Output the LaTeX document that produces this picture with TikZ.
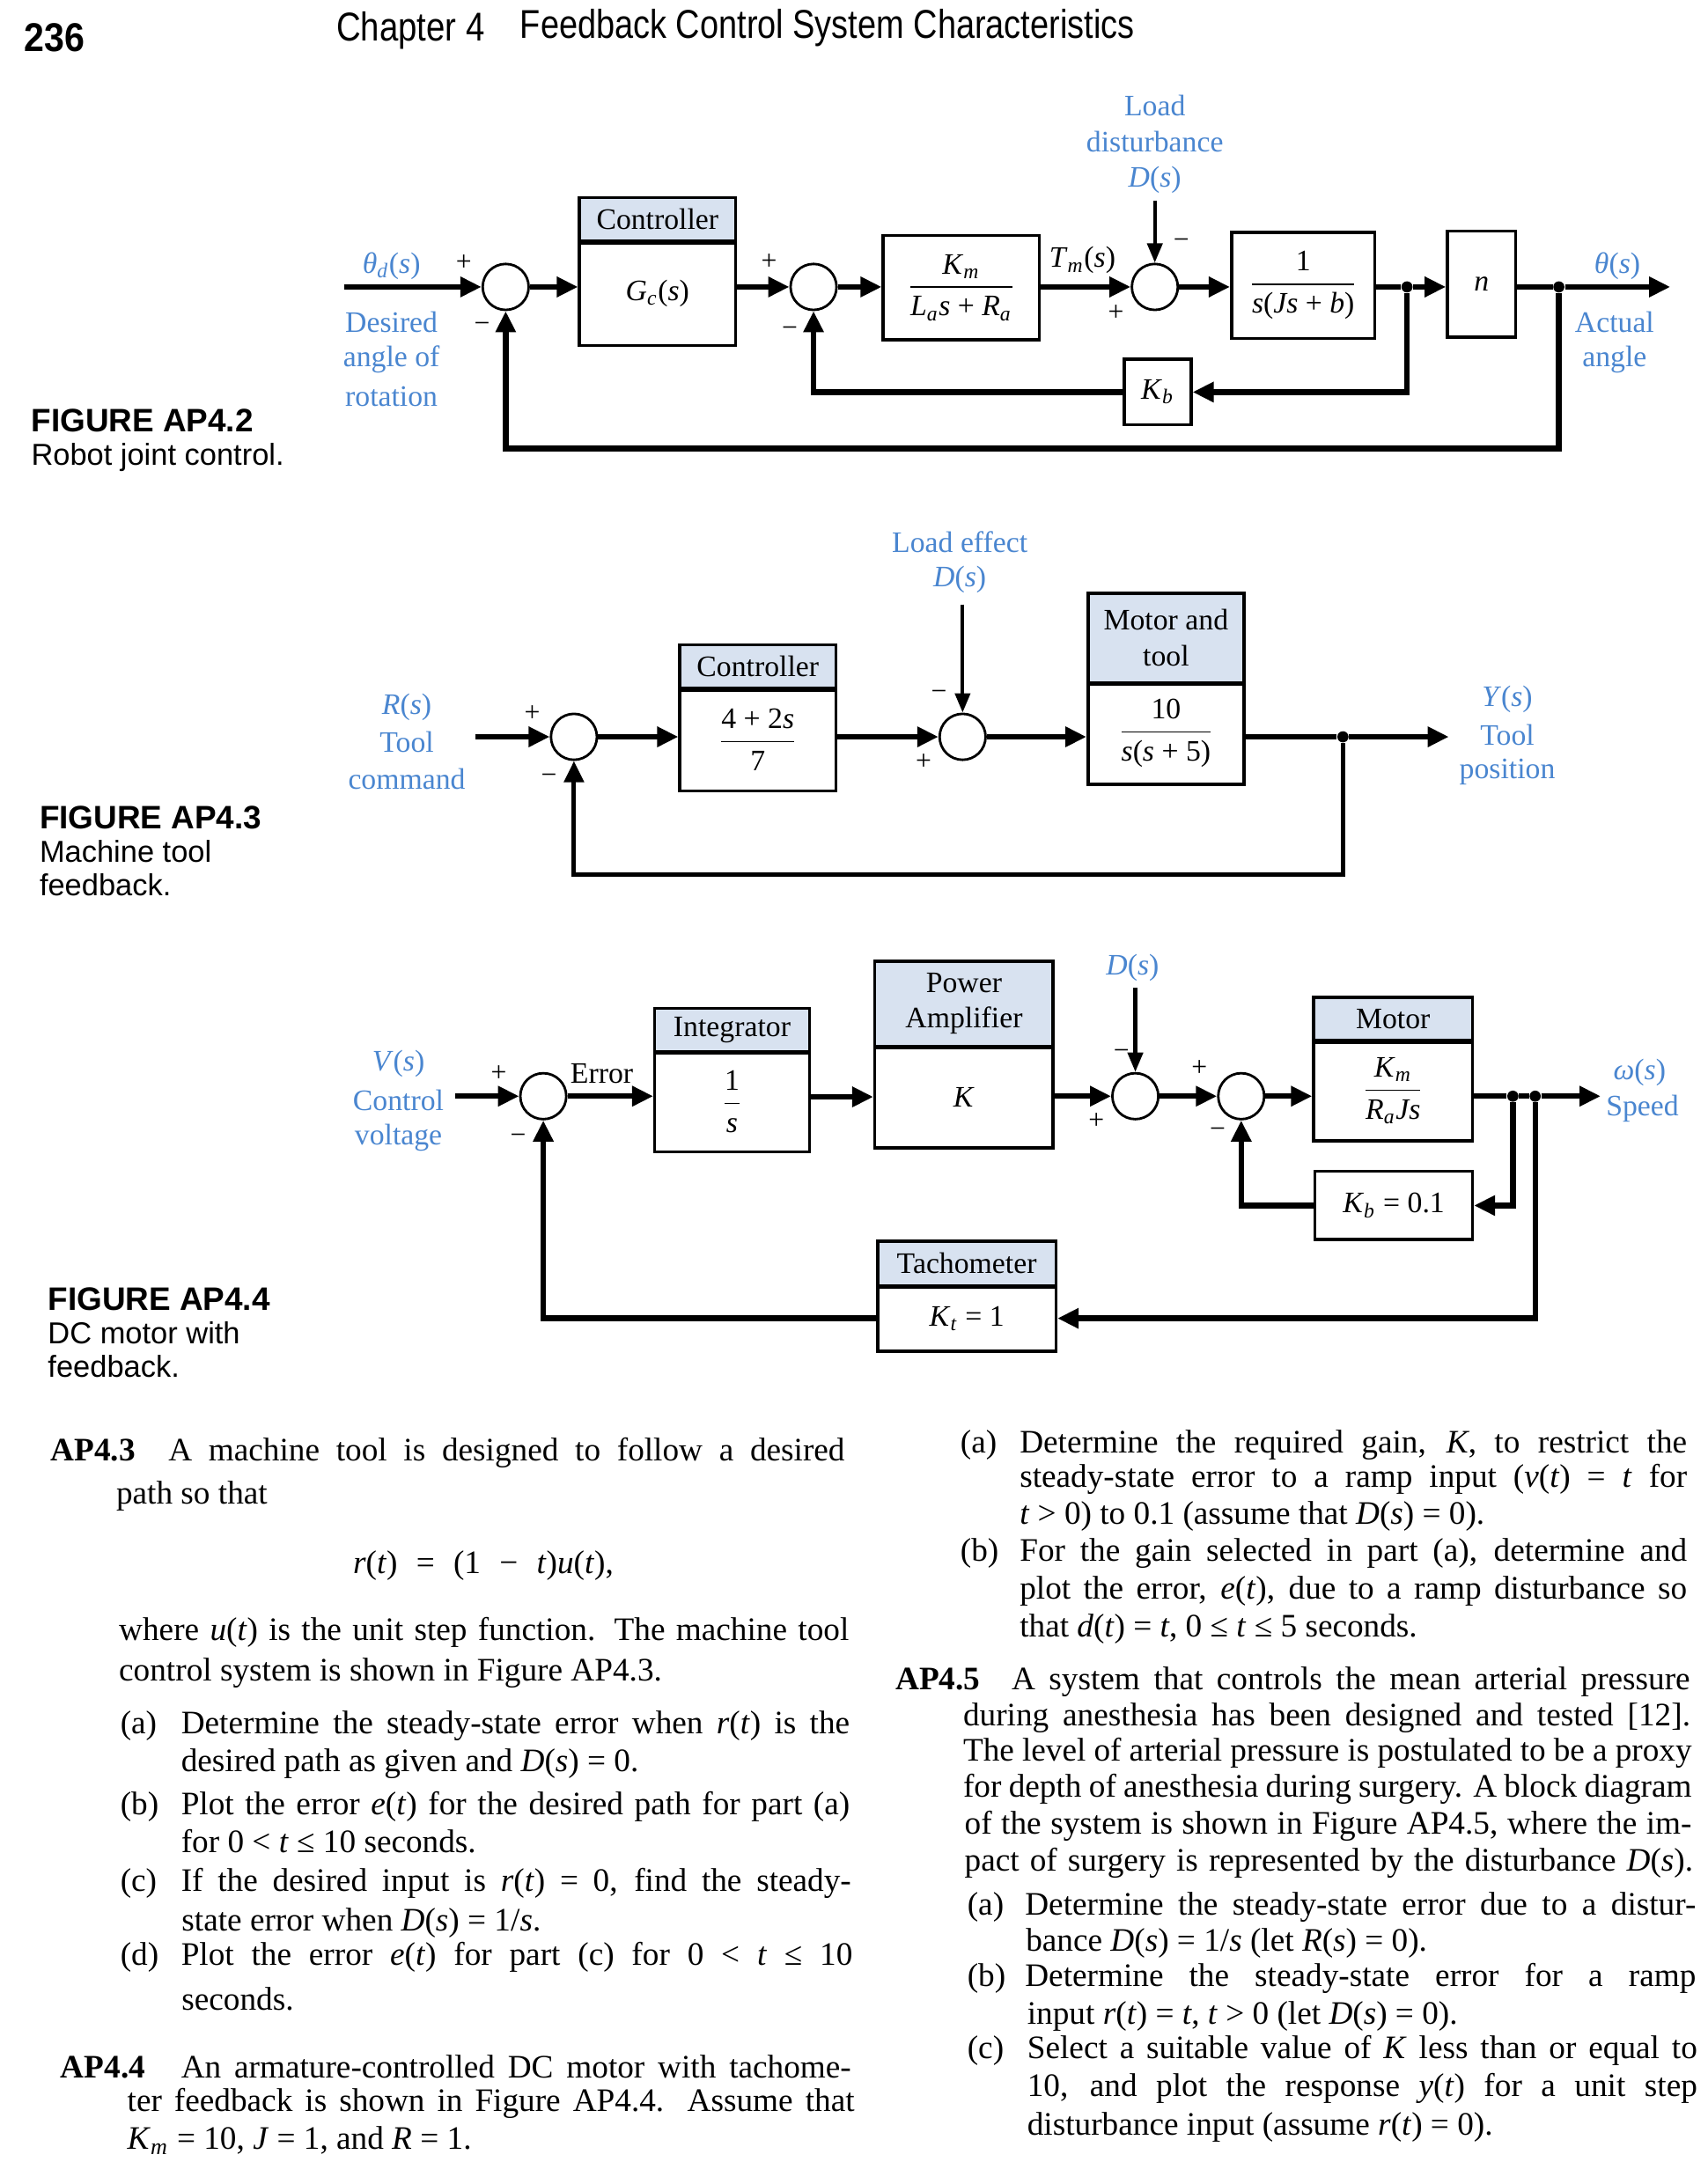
\documentclass[tikz,border=0pt]{standalone}
\usepackage{fontspec}
\usepackage{amsmath}
\usepackage{graphicx}
\setmainfont{Liberation Serif}
\newfontfamily\hsans{Liberation Sans}
\usetikzlibrary{arrows.meta}
\definecolor{lblue}{RGB}{74,134,208}
\definecolor{hdrfill}{RGB}{216,226,240}
\newdimen\upx \upx=0.015824cm
\newcommand\ux{0.015824cm}
\newcommand\mv[1]{\textit{#1}}
\newcommand\sbs[1]{\ensuremath{_{\textit{#1}}}}
\newcommand\frc[2]{\ensuremath{\displaystyle\frac{\text{#1}}{\text{#2}}}}
\newcommand\dfont{\fontsize{9.6}{11.6}\selectfont}
\newcommand\bfnt{\fontsize{10.6}{13}\selectfont}
\newcommand\sgnfont{\fontsize{9}{10}\selectfont}
\newcommand\HBlock[8]{%
  \node[hdr, minimum width={(#3-#2)*\ux}, minimum height={(#5-#4)*\ux}] (#1-h) at ({(#2+#3)/2},{(#4+#5)/2}) {#7};
  \node[blk, minimum width={(#3-#2)*\ux}, minimum height={(#6-#5)*\ux}] (#1) at ({(#2+#3)/2},{(#5+#6)/2}) {#8};
  \draw[line width=1.2pt] (#1-h.south west) -- (#1-h.south east);}
\newcommand\PBlock[6]{%
  \node[blk, minimum width={(#3-#2)*\ux}, minimum height={(#5-#4)*\ux}] (#1) at ({(#2+#3)/2},{(#4+#5)/2}) {#6};}
\newcommand\JL[5]{\node[bt] (#1) at (#2,#3) {\hbox to #4\upx{#5}};}
\newcommand\NL[4]{\node[bt] (#1) at (#2,#3) {#4};}
\begin{document}
\begin{tikzpicture}[x=0.015824cm, y=-0.015824cm,
  blk/.style={draw, line width=1pt, inner sep=1pt, align=center, font=\dfont},
  hdr/.style={blk, fill=hdrfill},
  sumj/.style={draw, circle, line width=0.8pt, minimum size={33*\ux}, inner sep=0pt},
  sig/.style={line width=1.8pt, -{Triangle[length=0.24cm, width=0.22cm]}},
  dsig/.style={line width=1.2pt, -{Triangle[length=0.22cm, width=0.17cm]}},
  wire/.style={line width=1.8pt},
  pdot/.style={circle, fill, inner sep=0pt, minimum size={8*\ux}},
  lbl/.style={text=lblue, font=\dfont, inner sep=0pt},
  dl/.style={font=\dfont, inner sep=0pt},
  sgn/.style={font=\sgnfont, inner sep=0pt},
  bt/.style={font=\bfnt, inner sep=0pt, anchor=base west},
  capb/.style={font={\hsans\bfseries\fontsize{10.5}{12}\selectfont}, inner sep=0pt, anchor=base west},
  capr/.style={font={\hsans\fontsize{9.8}{12}\selectfont}, inner sep=0pt, anchor=base west}]
\fill[white] (0,0) rectangle (1226,1568);
\useasboundingbox (0,0) rectangle (1226,1568);

% ---------- page header ----------
\node[anchor=west, inner sep=0pt, font={\hsans\bfseries\fontsize{13}{15}\selectfont}] (pg) at (17,27) {\scalebox{0.9}[1]{236}};
\node[anchor=west, inner sep=0pt, font={\hsans\fontsize{13}{15}\selectfont}] (chap) at (241,22) {\scalebox{0.84}[1]{Chapter 4}};
\node[anchor=west, inner sep=0pt, font={\hsans\fontsize{13}{15}\selectfont}] (ctitle) at (373,20) {\scalebox{0.83}[1]{Feedback Control System Characteristics}};

% ---------- FIGURE AP4.2 ----------
\coordinate (in2) at (247,206);
\node[sumj] (s21) at (363,206) {};
\HBlock{ctrl2}{416}{528}{142}{173}{248}{Controller}{\mv{G}\sbs{c}(\mv{s})}
\node[sumj] (s22) at (584,206) {};
\PBlock{kma}{634}{746}{169}{244}{\frc{\mv{K}\sbs{m}}{\mv{L}\sbs{a}\mv{s} + \mv{R}\sbs{a}}}
\node[sumj] (s23) at (829,206) {};
\PBlock{pl2}{884}{987}{167}{243}{\frc{1}{\mv{s}(\mv{Js} + \mv{b})}}
\node[pdot] (p21) at (1010,206) {};
\PBlock{nb}{1039}{1088}{166}{242}{\mv{n}}
\node[pdot] (p22) at (1119,206) {};
\coordinate (out2) at (1199,206);
\PBlock{kb2}{807}{855}{258}{305}{\mv{K}\sbs{b}}
\coordinate (fb2) at (740,322);
\coordinate (d2) at (829,144);

\draw[sig] (in2) -- (s21);
\draw[sig] (s21) -- (s21 -| ctrl2.west);
\draw[sig] (ctrl2.east |- s22) -- (s22);
\draw[sig] (s22) -- (s22 -| kma.west);
\draw[sig] (kma.east |- s23) -- (s23);
\draw[sig] (s23) -- (s23 -| pl2.west);
\draw[wire] (pl2.east |- p21) -- (p21);
\draw[sig] (p21) -- (p21 -| nb.west);
\draw[wire] (nb.east |- p22) -- (p22);
\draw[sig] (p22) -- (out2);
\draw[sig] (p21) |- (kb2.east);
\draw[sig] (kb2.west) -| (s22.south);
\draw[sig] (p22) |- (fb2) -| (s21.south);
\draw[dsig] (d2) -- (s23);

\node[lbl] (thd) at (281,191) {\mv{θ}\sbs{d}(\mv{s})};
\node[lbl] (des1) at (281,231) {Desired};
\node[lbl] (des2) at (281,258) {angle of};
\node[lbl] (des3) at (281,285) {rotation};
\node[sgn] (g21) at (333,189) {+};
\node[sgn] (g22) at (346,235) {−};
\node[sgn] (g23) at (552,188) {+};
\node[sgn] (g24) at (567,238) {−};
\node[dl] (tm) at (777,187) {\mv{T}\sbs{m}(\mv{s})};
\node[sgn] (g25) at (848,175) {−};
\node[sgn] (g26) at (801,225) {+};
\node[lbl] (ld1) at (829,76) {Load};
\node[lbl] (ld2) at (829,102) {disturbance};
\node[lbl] (ld3) at (829,129) {\mv{D}(\mv{s})};
\node[lbl] (th) at (1161,191) {\mv{θ}(\mv{s})};
\node[lbl] (act1) at (1159,231) {Actual};
\node[lbl] (act2) at (1159,258) {angle};
\node[capb] (f2) at (22,310) {FIGURE AP4.2};
\node[capr] (f2t) at (22,334) {Robot joint control.};

% ---------- FIGURE AP4.3 ----------
\coordinate (in3) at (341,529);
\node[sumj] (s31) at (412,529) {};
\HBlock{ctrl3}{488}{600}{463}{494}{568}{Controller}{\frc{4 + 2\mv{s}}{7}}
\node[sumj] (s32) at (691,529) {};
\HBlock{mt}{781}{893}{426}{490}{563}{Motor and\\tool}{\frc{10}{\mv{s}(\mv{s} + 5)}}
\node[pdot] (p3) at (964,529) {};
\coordinate (out3) at (1040,529);
\coordinate (fb3) at (700,628);
\coordinate (d3) at (691,434);

\draw[sig] (in3) -- (s31);
\draw[sig] (s31) -- (s31 -| ctrl3.west);
\draw[sig] (ctrl3.east |- s32) -- (s32);
\draw[sig] (s32) -- (s32 -| mt.west);
\draw[wire] (mt.east |- p3) -- (p3);
\draw[sig] (p3) -- (out3);
\draw[sig, line width=1.4pt] (p3) |- (fb3) -| (s31.south);
\draw[dsig] (d3) -- (s32);

\node[lbl] (rs) at (292,508) {\mv{R}(\mv{s})};
\node[lbl] (tc1) at (292,533) {Tool};
\node[lbl] (tc2) at (292,559) {command};
\node[sgn] (g31) at (382,512) {+};
\node[sgn] (g32) at (394,559) {−};
\node[sgn] (g33) at (674,499) {−};
\node[sgn] (g34) at (663,547) {+};
\node[lbl] (le1) at (689,389) {Load effect};
\node[lbl] (le2) at (689,416) {\mv{D}(\mv{s})};
\node[lbl] (ys) at (1082,502) {\mv{Y}(\mv{s})};
\node[lbl] (tp1) at (1082,528) {Tool};
\node[lbl] (tp2) at (1082,554) {position};
\node[capb] (f3) at (28,595) {FIGURE AP4.3};
\node[capr] (f3a) at (28,619) {Machine tool};
\node[capr] (f3b) at (28,643) {feedback.};

% ---------- FIGURE AP4.4 ----------
\coordinate (in4) at (327,787);
\node[sumj] (s41) at (390,787) {};
\HBlock{integ}{470}{581}{724}{755}{827}{Integrator}{\frc{1}{\mv{s}}}
\HBlock{pa}{628}{756}{690}{751}{824}{Power\\Amplifier}{\mv{K}}
\node[sumj] (s42) at (815,787) {};
\node[sumj] (s43) at (891,787) {};
\HBlock{motor}{943}{1057}{716}{747}{819}{Motor}{\frc{\mv{K}\sbs{m}}{\mv{R}\sbs{a}\mv{Js}}}
\node[pdot] (p41) at (1086,787) {};
\node[pdot] (p42) at (1102,787) {};
\coordinate (out4) at (1149,787);
\PBlock{kb4}{944}{1057}{841}{890}{\mv{K}\sbs{b} = 0.1}
\HBlock{tach}{630}{758}{891}{923}{970}{Tachometer}{\mv{K}\sbs{t} = 1}
\coordinate (d4) at (815,709);

\draw[sig] (in4) -- (s41);
\draw[sig] (s41) -- (s41 -| integ.west);
\draw[sig] (integ.east |- pa) -- (pa.west);
\draw[sig] (pa.east |- s42) -- (s42);
\draw[sig] (s42) -- (s43);
\draw[sig] (s43) -- (s43 -| motor.west);
\draw[wire] (motor.east |- p41) -- (p41) -- (p42);
\draw[sig] (p42) -- (out4);
\draw[sig] (p41) |- (kb4.east);
\draw[sig] (kb4.west) -| (s43.south);
\draw[sig] (p42) |- (tach.east);
\draw[sig] (tach.west) -| (s41.south);
\draw[dsig] (d4) -- (s42);

\node[lbl] (vs) at (286,764) {\mv{V}(\mv{s})};
\node[lbl] (cv1) at (286,790) {Control};
\node[lbl] (cv2) at (286,817) {voltage};
\node[sgn] (g41) at (358,771) {+};
\node[sgn] (g42) at (372,818) {−};
\node[dl] (err) at (432,771) {Error};
\node[lbl] (ds4) at (813,695) {\mv{D}(\mv{s})};
\node[sgn] (g43) at (805,757) {−};
\node[sgn] (g44) at (787,805) {+};
\node[sgn] (g45) at (861,767) {+};
\node[sgn] (g46) at (874,813) {−};
\node[lbl] (ws) at (1177,770) {\mv{ω}(\mv{s})};
\node[lbl] (spd) at (1179,796) {Speed};
\node[capb] (f4) at (34,941) {FIGURE AP4.4};
\node[capr] (f4a) at (34,965) {DC motor with};
\node[capr] (f4b) at (34,989) {feedback.};

% ---------- left column text ----------
\NL{ap43}{36}{1049}{\textbf{AP4.3}}
\JL{l1}{120.5}{1049}{485.5}{A machine tool is designed to follow a desired}
\NL{l2}{83}{1080}{path so that}
\JL{l3}{253}{1130}{187}{\mv{r}(\mv{t}) = (1 − \mv{t})\mv{u}(\mv{t}),}
\JL{l4}{85}{1178}{524}{where \mv{u}(\mv{t}) is the unit step function. The machine tool}
\NL{l5}{85}{1207}{control system is shown in Figure AP4.3.}
\NL{la}{86}{1245}{(a)}
\JL{l6}{129.6}{1245}{480}{Determine the steady-state error when \mv{r}(\mv{t}) is the}
\NL{l7}{129.6}{1272}{desired path as given and \mv{D}(\mv{s}) = 0.}
\NL{lb}{86}{1303}{(b)}
\JL{l8}{129.6}{1303}{480}{Plot the error \mv{e}(\mv{t}) for the desired path for part (a)}
\NL{l9}{129.6}{1330}{for 0 < \mv{t} ≤ 10 seconds.}
\NL{lc}{86}{1358}{(c)}
\JL{l10}{129.6}{1358}{481}{If the desired input is \mv{r}(\mv{t}) = 0, find the steady-}
\NL{l11}{130}{1386}{state error when \mv{D}(\mv{s}) = 1/\mv{s}.}
\NL{ld}{86}{1411}{(d)}
\JL{l12}{129.6}{1411}{482}{Plot the error \mv{e}(\mv{t}) for part (c) for 0 < \mv{t} ≤ 10}
\NL{l13}{130}{1443}{seconds.}
\NL{ap44}{43}{1492}{\textbf{AP4.4}}
\JL{l14}{129.6}{1492}{481}{An armature-controlled DC motor with tachome-}
\JL{l15}{91}{1516}{522}{ter feedback is shown in Figure AP4.4. Assume that}
\NL{l16}{91}{1543}{\mv{K}\sbs{m} = 10, \mv{J} = 1, and \mv{R} = 1.}

% ---------- right column text ----------
\NL{ra}{689}{1043}{(a)}
\JL{r1}{731.6}{1043}{479}{Determine the required gain, \mv{K}, to restrict the}
\JL{r2}{731.6}{1068}{479}{steady-state error to a ramp input (\mv{v}(\mv{t}) = \mv{t} for}
\NL{r3}{731.6}{1094}{\mv{t} > 0) to 0.1 (assume that \mv{D}(\mv{s}) = 0).}
\NL{rb}{689}{1121}{(b)}
\JL{r4}{731.6}{1121}{479}{For the gain selected in part (a), determine and}
\JL{r5}{731.6}{1148}{479}{plot the error, \mv{e}(\mv{t}), due to a ramp disturbance so}
\NL{r6}{731.6}{1175}{that \mv{d}(\mv{t}) = \mv{t}, 0 ≤ \mv{t} ≤ 5 seconds.}
\NL{ap45}{642.5}{1213}{\textbf{AP4.5}}
\JL{r7}{725.8}{1213}{487}{A system that controls the mean arterial pressure}
\JL{r8}{691}{1239}{522}{during anesthesia has been designed and tested [12].}
\JL{r9}{691}{1264}{523}{The level of arterial pressure is postulated to be a proxy}
\JL{r10}{691}{1290}{523}{for depth of anesthesia during surgery. A block diagram}
\JL{r11}{692}{1317}{522}{of the system is shown in Figure AP4.5, where the im-}
\JL{r12}{692}{1343}{523}{pact of surgery is represented by the disturbance \mv{D}(\mv{s}).}
\NL{rc}{694}{1375}{(a)}
\JL{r13}{735.4}{1375}{481.6}{Determine the steady-state error due to a distur-}
\NL{r14}{736}{1401}{bance \mv{D}(\mv{s}) = 1/\mv{s} (let \mv{R}(\mv{s}) = 0).}
\NL{rd}{694}{1426}{(b)}
\JL{r15}{735.4}{1426}{481.6}{Determine the steady-state error for a ramp}
\NL{r16}{737}{1453}{input \mv{r}(\mv{t}) = \mv{t}, \mv{t} > 0 (let \mv{D}(\mv{s}) = 0).}
\NL{re}{694}{1478}{(c)}
\JL{r17}{737}{1478}{481}{Select a suitable value of \mv{K} less than or equal to}
\JL{r18}{737}{1505}{481}{10, and plot the response \mv{y}(\mv{t}) for a unit step}
\NL{r19}{737}{1533}{disturbance input (assume \mv{r}(\mv{t}) = 0).}
\end{tikzpicture}
\end{document}
